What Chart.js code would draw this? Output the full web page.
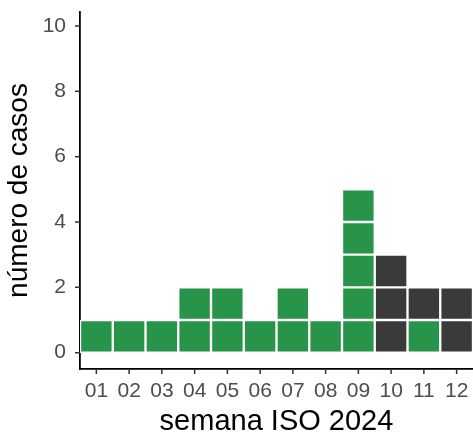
<!DOCTYPE html>
<html>
<head>
<meta charset="utf-8">
<script src="https://cdn.jsdelivr.net/npm/chart.js@4"></script>
<style>
  html, body { margin: 0; padding: 0; background: #fff; }
  #wrap { width: 473px; height: 434px; }
</style>
</head>
<body>
<div id="wrap"><canvas id="epiChart"></canvas></div>
<script>
// Weekly cases, ISO weeks 2024
const weeks = ['01', '02', '03', '04', '05', '06', '07', '08', '09', '10', '11', '12'];
const greenCases = [1, 1, 1, 2, 2, 1, 2, 1, 5, 0, 1, 0];
const darkCases = [0, 0, 0, 0, 0, 0, 0, 0, 0, 3, 1, 2];
const yTicks = [0, 2, 4, 6, 8, 10];

const GREEN = '#27944a';
const DARK = '#3a3a3a';
const FONT = 'Liberation Sans, Arial, sans-serif';

// one dataset per stacked layer, each case is its own cell
const maxCases = Math.max(...weeks.map((w, i) => greenCases[i] + darkCases[i]));
const datasets = [];
for (let layer = 0; layer < maxCases; layer++) {
  datasets.push({
    data: weeks.map((w, i) => layer < greenCases[i] + darkCases[i] ? 1 : null),
    backgroundColor: weeks.map((w, i) => layer < greenCases[i] ? GREEN : DARK),
    borderColor: '#ffffff',
    borderWidth: 1.5,
    borderSkipped: false,
    barPercentage: 1,
    categoryPercentage: 1
  });
}

new Chart(document.getElementById('epiChart'), {
  type: 'bar',
  data: { labels: weeks, datasets: datasets },
  options: {
    responsive: true,
    maintainAspectRatio: false,
    animation: false,
    layout: { padding: { top: 12, right: 0, left: 0, bottom: 0 } },
    plugins: {
      legend: { display: false },
      tooltip: { enabled: false }
    },
    scales: {
      x: {
        stacked: true,
        offset: true,
        grid: { display: false, drawTicks: false },
        border: { display: true, color: '#000', width: 1.8 },
        ticks: {
          color: '#4d4d4d',
          font: { family: FONT, size: 21 },
          padding: 10,
          maxRotation: 0,
          autoSkip: false
        },
        title: {
          display: true,
          text: 'semana ISO 2024',
          color: '#000',
          font: { family: FONT, size: 29, lineHeight: 0.83 },
          padding: { top: 0, bottom: 0 }
        },
        afterFit: scale => {
          scale.height = 65;
          scale.paddingLeft = 0;
          scale.paddingRight = 0;
        }
      },
      y: {
        stacked: true,
        min: -0.5,
        max: 10.43,
        afterBuildTicks: axis => { axis.ticks = yTicks.map(v => ({ value: v })); },
        grid: { display: false, drawTicks: false },
        border: { display: true, color: '#000', width: 1.8 },
        ticks: {
          color: '#4d4d4d',
          font: { family: FONT, size: 21 },
          padding: 14
        },
        title: {
          display: true,
          text: 'número de casos',
          color: '#000',
          font: { family: FONT, size: 28, lineHeight: 0.83 },
          padding: { top: 8, bottom: 0 }
        },
        afterFit: scale => {
          scale.width = 80;
          scale.paddingTop = 0;
          scale.paddingBottom = 0;
        }
      }
    }
  },
  plugins: [{
    // short tick marks outside the axes
    id: 'tickMarks',
    afterDraw(chart) {
      const ctx = chart.ctx;
      const xs = chart.scales.x, ys = chart.scales.y;
      ctx.save();
      ctx.strokeStyle = '#333';
      ctx.lineWidth = 1.5;
      ctx.beginPath();
      weeks.forEach((w, i) => {
        const px = xs.getPixelForTick(i);
        ctx.moveTo(px, ys.bottom);
        ctx.lineTo(px, ys.bottom + 5);
      });
      yTicks.forEach(v => {
        const py = ys.getPixelForValue(v);
        ctx.moveTo(xs.left, py);
        ctx.lineTo(xs.left - 5, py);
      });
      ctx.stroke();
      ctx.restore();
    }
  }]
});
</script>
</body>
</html>
